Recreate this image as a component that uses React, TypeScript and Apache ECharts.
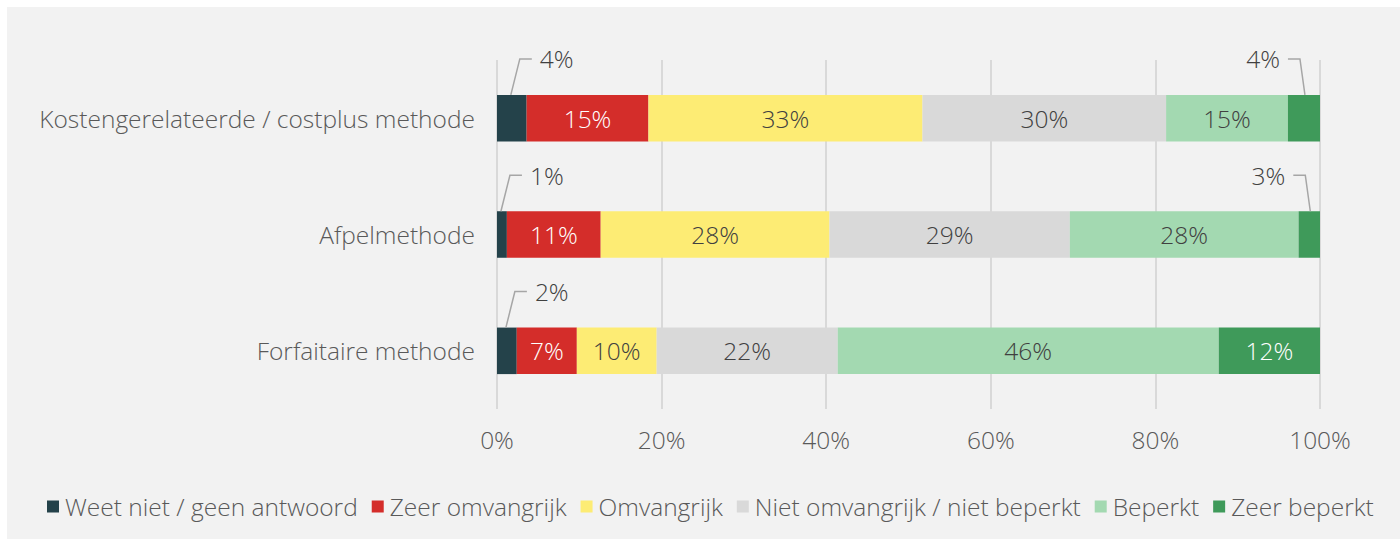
import React, { useEffect, useRef } from "react";
import * as echarts from "echarts";

const categories = [
  "Kostengerelateerde / costplus methode",
  "Afpelmethode",
  "Forfaitaire methode",
];
const seriesNames = [
  "Weet niet / geen antwoord",
  "Zeer omvangrijk",
  "Omvangrijk",
  "Niet omvangrijk / niet beperkt",
  "Beperkt",
  "Zeer beperkt",
];
const weetNiet = [3.6, 1.2, 2.4];
const zeerOmvangrijk = [14.8, 11.4, 7.3];
const omvangrijk = [33.3, 27.8, 9.7];
const nietOmvangrijk = [29.6, 29.2, 22.0];
const beperkt = [14.8, 27.8, 46.3];
const zeerBeperkt = [3.9, 2.6, 12.3];
const xTicks = [0, 20, 40, 60, 80, 100];

const colors = ["#24424a", "#d42d2a", "#fdec74", "#d9d9d9", "#a3d9b1", "#3f9a5a"];
const labelColors = ["#ffffff", "#ffffff", "#404040", "#404040", "#404040", "#ffffff"];
const FONT = "Open Sans";
const FW = 300;
const FS = 24.5;
const TXT = "#595959";

export default function App() {
  const ref = useRef<HTMLDivElement>(null);
  useEffect(() => {
    if (!ref.current) return;
    const chart = echarts.init(ref.current, null, { renderer: "svg" });
    const values = [weetNiet, zeerOmvangrijk, omvangrijk, nietOmvangrijk, beperkt, zeerBeperkt];
    const barSeries = values.map((vals, si) => ({
      name: seriesNames[si],
      type: "bar",
      stack: "total",
      barWidth: "40%",
      data: vals,
      itemStyle: { color: colors[si] },
      label: {
        show: true,
        position: "inside",
        color: labelColors[si],
        fontFamily: FONT,
        fontWeight: FW,
        fontSize: FS,
        formatter: (p: any) => (p.value >= 5 ? Math.round(p.value) + "%" : ""),
      },
    }));
    const callouts: any[] = [];
    categories.forEach((_, ci) => {
      let start = 0;
      values.forEach((vals, si) => {
        const v = vals[ci];
        if (v < 5) {
          callouts.push([start + v / 2, ci, Math.round(v), si === 0 ? 1 : -1]);
        }
        start += v;
      });
    });
    const calloutSeries = {
      type: "custom",
      coordinateSystem: "cartesian2d",
      z: 10,
      silent: true,
      data: callouts,
      encode: { x: 0, y: 1 },
      renderItem: (params: any, api: any) => {
        const pt = api.coord([api.value(0), api.value(1)]);
        const band = api.size([0, 1])[1];
        const top = pt[1] - band * 0.2;
        const side = api.value(3);
        const ex = pt[0] + (side > 0 ? 8 : -4);
        const ey = top - 36;
        const hx = ex + side * 12;
        return {
          type: "group",
          children: [
            {
              type: "polyline",
              shape: { points: [[pt[0] - side * 1, top], [ex, ey], [hx, ey]] },
              style: { stroke: "#a6a6a6", lineWidth: 1.5, fill: null },
            },
            {
              type: "text",
              x: hx + side * 8,
              y: ey,
              style: {
                text: api.value(2) + "%",
                fill: "#404040",
                fontFamily: FONT,
                fontWeight: FW,
                fontSize: FS,
                align: side > 0 ? "left" : "right",
                verticalAlign: "middle",
              },
            },
          ],
        };
      },
    };
    chart.setOption({
      animation: false,
      backgroundColor: "#f2f2f2",
      textStyle: { fontFamily: FONT, color: TXT, fontWeight: FW },
      grid: { left: 490, right: 80, top: 53, bottom: 130, containLabel: false },
      legend: {
        data: seriesNames,
        top: 482,
        left: 35,
        icon: "rect",
        itemWidth: 12,
        itemHeight: 12,
        itemGap: 14,
        itemStyle: { borderWidth: 0 },
        textStyle: { fontFamily: FONT, fontWeight: FW, fontSize: FS, color: TXT, padding: [0, 0, 0, 1] },
      },
      xAxis: {
        type: "value",
        min: xTicks[0],
        max: xTicks[xTicks.length - 1],
        interval: xTicks[1] - xTicks[0],
        axisLine: { show: false },
        axisTick: { show: false },
        splitLine: { show: true, lineStyle: { color: "#d9d9d9", width: 2 } },
        axisLabel: { formatter: "{value}%", fontFamily: FONT, fontWeight: FW, fontSize: FS, color: TXT, margin: 18 },
      },
      yAxis: {
        type: "category",
        data: categories,
        inverse: true,
        axisLine: { show: false },
        axisTick: { show: false },
        axisLabel: { fontFamily: FONT, fontWeight: FW, fontSize: FS, color: TXT, margin: 22 },
      },
      series: [...barSeries, calloutSeries],
    });
    return () => chart.dispose();
  }, []);
  return (
    <div
      ref={ref}
      style={{ position: "absolute", left: 7, top: 7, width: 1393, height: 532 }}
    />
  );
}
